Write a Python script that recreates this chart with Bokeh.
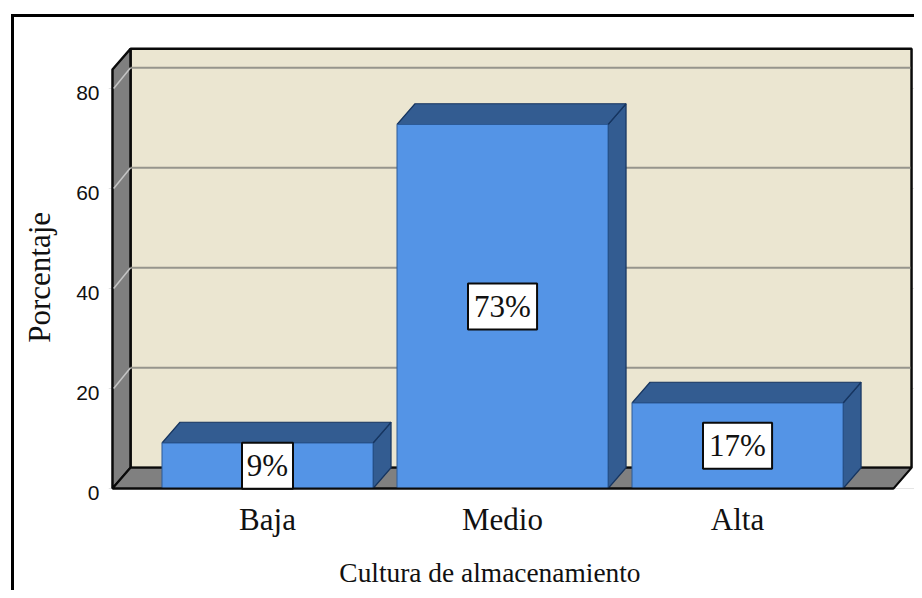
from bokeh.plotting import figure
from bokeh.models import Range1d, LinearAxis, FixedTicker, InlineStyleSheet
from bokeh.embed import file_html
from bokeh.resources import INLINE
from bokeh.core.properties import value
import math

categories = ["Baja", "Medio", "Alta"]
percentages = [9.1, 72.8, 17.1]
bar_labels = ["9%", "73%", "17%"]
y_ticks = [0, 20, 40, 60, 80]
x_title = "Cultura de almacenamiento"
y_title = "Porcentaje"

# depth of the pseudo-3D box, data units
DX, DY = 0.0766, 4.15
W = 0.449
XL, XR = -0.6596, 2.6638
YTOP = 83.8
X_TITLE_AT = 0.9465   # the axis titles sit off-centre in the reference
Y_TITLE_AT = 55.3
SERIF = "Liberation Serif"
SANS = "Liberation Sans"
BLACK = "#0a0a0a"

p = figure(width=914, height=590, output_backend="svg", toolbar_location=None,
           x_range=Range1d(-0.6766, 2.753), y_range=Range1d(-0.8, 88.8),
           y_axis_location=None, min_border_left=108, min_border_top=44,
           min_border_right=0, min_border_bottom=98,
           background_fill_color="white", border_fill_color="white",
           outline_line_color=None)
p.stylesheets = [InlineStyleSheet(css=(
    ":host::after{content:'';position:absolute;left:11px;top:14px;right:0;bottom:0;"
    "border-top:3px solid #000;border-left:3px solid #000;pointer-events:none;z-index:10;}"))]
p.xgrid.visible = False

# walls
p.patch([XL + DX, XR + DX, XR + DX, XL + DX], [DY, DY, YTOP + DY, YTOP + DY],
        fill_color="#ebe6d1", line_color=BLACK, line_width=2.5)
p.patch([XL, XL + DX, XL + DX, XL], [0, DY, YTOP + DY, YTOP],
        fill_color="#7f7f7f", line_color=BLACK, line_width=2.5)
p.patch([XL, XL + DX, XR + DX, XR], [0, DY, DY, 0],
        fill_color="#808080", line_color=BLACK, line_width=2)

# gridlines
grid = [t for t in y_ticks if t > 0]
p.segment(x0=[XL + DX] * 4, y0=[t + DY for t in grid], x1=[XR + DX - 0.005] * 4,
          y1=[t + DY for t in grid], line_color="#96958c", line_width=2)
p.segment(x0=[XL + 0.005] * 4, y0=grid, x1=[XL + DX] * 4, y1=[t + DY for t in grid],
          line_color="#c4c4c4", line_width=1.5)

# bars
for i, v in enumerate(percentages):
    p.patch([i + W, i + W + DX, i + W + DX, i + W], [0, DY, v + DY, v],
            fill_color="#335c91", line_color="#163560", line_width=1.2)
    p.patch([i - W, i - W + DX, i + W + DX, i + W], [v, v + DY, v + DY, v],
            fill_color="#335c91", line_color="#163560", line_width=1.2)
p.quad(left=[i - W for i in range(3)], right=[i + W for i in range(3)],
       bottom=[0] * 3, top=percentages, fill_color="#5494e6",
       line_color="#2c5a96", line_width=1)
p.segment(x0=[XL], y0=[0], x1=[XR], y1=[0], line_color=BLACK, line_width=2)

# value boxes
half = [0.1085 if len(s) == 2 else 0.147 for s in bar_labels]
p.quad(left=[i - half[i] for i in range(3)], right=[i + half[i] for i in range(3)],
       bottom=[v / 2 - 4.6 for v in percentages], top=[v / 2 + 4.6 for v in percentages],
       fill_color="white", line_color=BLACK, line_width=2)
p.text(x=list(range(3)), y=[v / 2 for v in percentages], text=bar_labels,
       text_font=value(SERIF), text_font_size="31px", text_align="center",
       text_baseline="middle", text_color="#111111")


def quiet(axis):
    axis.axis_line_color = None
    axis.major_tick_line_color = None
    axis.minor_tick_line_color = None
    axis.major_tick_out = 0
    axis.major_tick_in = 0
    axis.minor_tick_out = 0
    axis.minor_tick_in = 0


# axes
p.extra_y_ranges = {"labels": Range1d(0, 89.6)}
ya = LinearAxis(y_range_name="labels", ticker=FixedTicker(ticks=y_ticks),
                major_label_text_font=SANS, major_label_text_font_size="21px",
                major_label_text_color="#111111", major_label_standoff=9)
quiet(ya)
p.add_layout(ya, "left")

ya2 = LinearAxis(ticker=FixedTicker(ticks=[Y_TITLE_AT]),
                 major_label_overrides={Y_TITLE_AT: y_title},
                 major_label_orientation=math.pi / 2,
                 major_label_text_font=SERIF, major_label_text_font_size="31px",
                 major_label_text_color="#111111", major_label_standoff=34)
quiet(ya2)
p.add_layout(ya2, "left")

xa = p.xaxis[0]
xa.ticker = FixedTicker(ticks=[0, 1, 2])
xa.major_label_overrides = {i: c for i, c in enumerate(categories)}
xa.major_label_text_font = SERIF
xa.major_label_text_font_size = "31px"
xa.major_label_text_color = "#111111"
xa.major_label_standoff = 9
quiet(xa)

xa2 = LinearAxis(ticker=FixedTicker(ticks=[X_TITLE_AT]),
                 major_label_overrides={X_TITLE_AT: x_title},
                 major_label_text_font=SERIF, major_label_text_font_size="27.4px",
                 major_label_text_color="#111111", major_label_standoff=18)
quiet(xa2)
p.add_layout(xa2, "below")

open("out.html", "w").write(file_html(p, INLINE))
